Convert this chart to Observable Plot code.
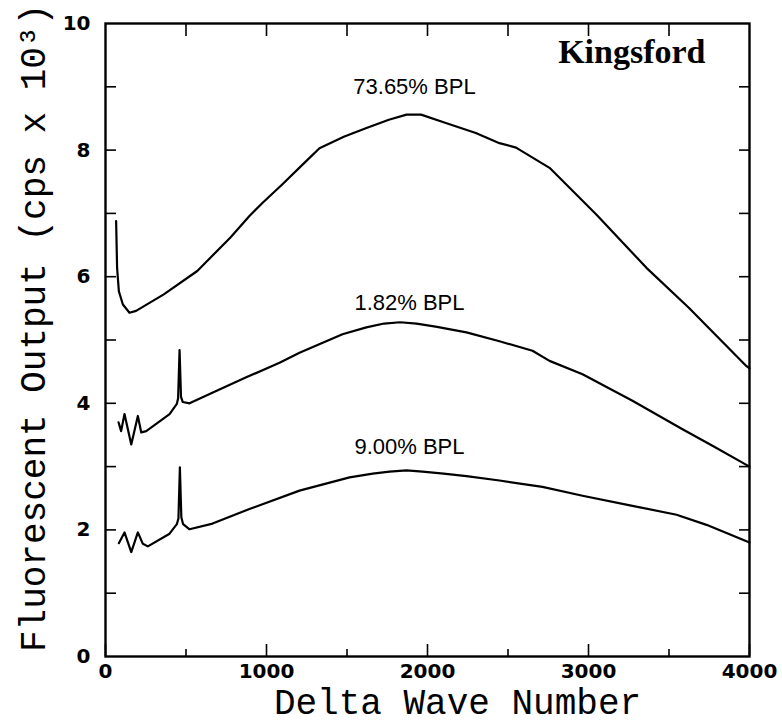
<!DOCTYPE html>
<html>
<head>
<meta charset="utf-8">
<script src="https://cdn.jsdelivr.net/npm/d3@7"></script>
<script src="https://cdn.jsdelivr.net/npm/@observablehq/plot@0.6"></script>
<style>
  html, body { margin: 0; padding: 0; background: #fff; }
  #chart svg { display: block; }
</style>
</head>
<body>
<div id="chart"></div>
<script>
// ---- data ----
const x7365 = [66, 72, 83, 108, 149, 190, 362, 570, 776, 894, 973, 1099, 1224, 1329, 1480, 1621, 1760, 1870, 1960, 2100, 2300, 2447, 2550, 2758, 3050, 3360, 3623, 3980, 4000];
const y7365 = [6.88, 6.14, 5.77, 5.56, 5.43, 5.46, 5.72, 6.09, 6.62, 6.96, 7.16, 7.46, 7.77, 8.03, 8.21, 8.35, 8.48, 8.56, 8.56, 8.44, 8.27, 8.11, 8.04, 7.72, 6.98, 6.14, 5.51, 4.59, 4.55];

const x182 = [81, 97, 118, 160, 201, 222, 253, 398, 443, 451, 460, 469, 480, 522, 667, 874, 1081, 1205, 1472, 1620, 1730, 1830, 1932, 2050, 2242, 2447, 2652, 2758, 2963, 3273, 3584, 3770, 4000];
const y182 = [3.70, 3.56, 3.83, 3.35, 3.80, 3.54, 3.56, 3.83, 3.99, 4.08, 4.84, 4.10, 4.02, 4.00, 4.17, 4.41, 4.64, 4.80, 5.09, 5.20, 5.26, 5.28, 5.26, 5.21, 5.12, 4.98, 4.83, 4.67, 4.46, 4.04, 3.59, 3.33, 3.00];

const x900 = [83, 118, 160, 201, 232, 263, 398, 443, 453, 462, 471, 482, 522, 665, 894, 1205, 1516, 1660, 1764, 1870, 1969, 2100, 2242, 2447, 2714, 2963, 3273, 3547, 3733, 4000];
const y900 = [1.79, 1.96, 1.65, 1.96, 1.78, 1.74, 1.94, 2.09, 2.18, 2.99, 2.20, 2.09, 2.01, 2.10, 2.33, 2.62, 2.83, 2.89, 2.92, 2.94, 2.92, 2.89, 2.85, 2.78, 2.68, 2.54, 2.38, 2.24, 2.08, 1.80];

const seriesNames = ["73.65% BPL", "1.82% BPL", "9.00% BPL"];
const labelX = [1919, 1888, 1888];
const labelY = [8.99, 5.58, 3.31];

const xMajorTicks = [0, 1000, 2000, 3000, 4000];
const xMinorTicks = [500, 1500, 2500, 3500];
const xTopTicks = [500, 1000, 1500, 2000, 2500, 3000, 3500];
const yLabelTicks = [0, 2, 4, 6, 8, 10];
const yTickMarks = [1, 2, 3, 4, 5, 6, 7, 8, 9];

const xTitle = "Delta Wave Number";
const yTitle = "Fluorescent Output (cps x 10\u00B3)";
const sampleName = "Kingsford";

// ---- build tables ----
const toRows = (xs, ys, name) => xs.map((x, i) => ({x, y: ys[i], series: name}));
const rows = [
  ...toRows(x7365, y7365, seriesNames[0]),
  ...toRows(x182, y182, seriesNames[1]),
  ...toRows(x900, y900, seriesNames[2])
];
const labels = seriesNames.map((s, i) => ({text: s, x: labelX[i], y: labelY[i]}));

const tickFont = {fontFamily: "DejaVu Sans", fontWeight: "bold", fontSize: 20};

const chart = Plot.plot({
  width: 782,
  height: 724,
  marginLeft: 105,
  marginRight: 33,
  marginTop: 23,
  marginBottom: 68,
  x: {domain: [0, 4000]},
  y: {domain: [0, 10]},
  style: {background: "#fff", color: "#000"},
  marks: [
    // bottom axis
    Plot.axisX({anchor: "bottom", ticks: xMajorTicks, tickSize: -12, tickFormat: () => "", label: null, strokeWidth: 1.6}),
    Plot.axisX({anchor: "bottom", ticks: xMinorTicks, tickSize: -7, tickFormat: () => "", label: null, strokeWidth: 1.6}),
    Plot.axisX({anchor: "bottom", ticks: xMajorTicks, tickSize: 0, tickPadding: 7, tickFormat: d => String(d), label: null, ...tickFont}),
    // top axis
    Plot.axisX({anchor: "top", ticks: xTopTicks, tickSize: -12, tickFormat: () => "", label: null, strokeWidth: 1.6}),
    // left axis
    Plot.axisY({anchor: "left", ticks: yTickMarks, tickSize: -11, tickFormat: () => "", label: null, strokeWidth: 1.6}),
    Plot.axisY({anchor: "left", ticks: yLabelTicks, tickSize: 0, tickPadding: 15, tickFormat: d => String(d), label: null, ...tickFont}),
    // right axis
    Plot.axisY({anchor: "right", ticks: yTickMarks, tickSize: -11, tickFormat: () => "", label: null, strokeWidth: 1.6}),
    Plot.frame({stroke: "#000", strokeWidth: 2.4}),
    // curves
    Plot.line(rows, {x: "x", y: "y", z: "series", stroke: "#000", strokeWidth: 2.2, curve: "linear"}),
    // series labels
    Plot.text(labels, {x: "x", y: "y", text: "text", fontFamily: "Liberation Sans", fontSize: 22, fill: "#000", textAnchor: "middle", style: "letter-spacing:1.5px"}),
    // sample name
    Plot.text([sampleName], {frameAnchor: "top-right", text: d => d, dx: -44, dy: 15, fontFamily: "Liberation Serif", fontWeight: "bold", fontSize: 34, fill: "#000", textAnchor: "end", lineAnchor: "top"}),
    // axis titles
    Plot.text([xTitle], {frameAnchor: "bottom", text: d => d, dx: 30, dy: 46, fontFamily: "Liberation Mono", fontSize: 36, fill: "#000", textAnchor: "middle", lineAnchor: "middle", style: "letter-spacing:1px"}),
    Plot.text([yTitle], {frameAnchor: "left", text: d => d, rotate: -90, dx: -72, dy: -12, fontFamily: "Liberation Mono", fontSize: 36, fill: "#000", textAnchor: "middle", lineAnchor: "middle"})
  ]
});
document.getElementById("chart").appendChild(chart);
</script>
</body>
</html>
